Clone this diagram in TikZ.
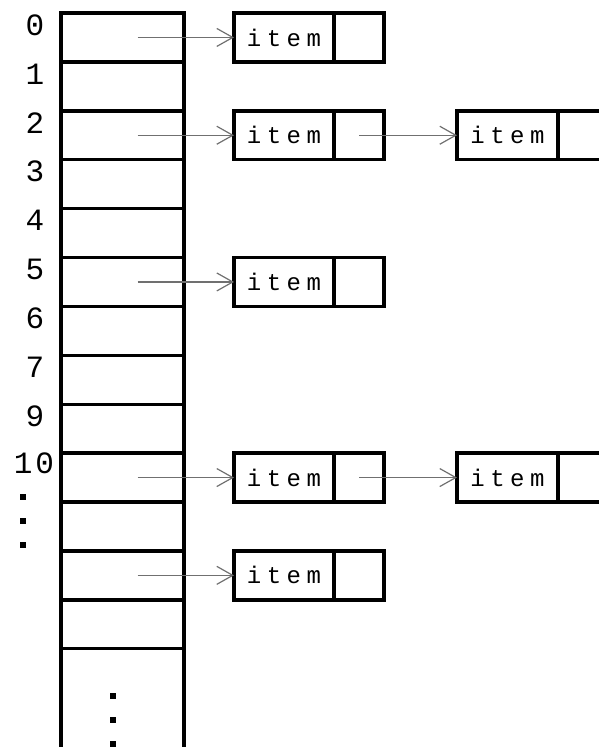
\documentclass[tikz,border=0pt]{standalone}
\usepackage{fontspec}
\usetikzlibrary{arrows.meta}
\newfontfamily\monof{Liberation Mono}
\newcommand\itemtext{i\kern5.5pt t\kern5.5pt e\kern5.5pt m}
\definecolor{linkgray}{HTML}{707070}
\begin{document}
\begin{tikzpicture}[x=1pt,y=-1pt,
  cell/.style={draw,line width=3.4pt,minimum width=123pt,minimum height=48.9pt,inner sep=0pt,outer sep=0pt,anchor=north west},
  itembox/.style={draw,line width=3.4pt,minimum width=100pt,minimum height=48.9pt,inner sep=0pt,outer sep=0pt,anchor=north west,font=\monof\fontsize{24}{24}\selectfont},
  ptrbox/.style={draw,line width=3.4pt,minimum width=50pt,minimum height=48.9pt,inner sep=0pt,outer sep=0pt,anchor=north west},
  idx/.style={font=\monof\fontsize{31}{31}\selectfont,inner sep=0pt},
  link/.style={draw=linkgray,line width=1.2pt,-{Straight Barb[length=16pt,width=18pt,line width=1.2pt]}},
  dotm/.style={fill=black,minimum size=5.5pt,inner sep=0pt,outer sep=0pt}]
\useasboundingbox (0,0) rectangle (599,747);
\clip (0,0) rectangle (599,747);
% table cells
\foreach \k in {0,...,12}
  \node[cell] (c\k) at (61,{13+48.9*\k}) {};
\draw[line width=3.4pt] (c12.south west) -- ++(0,120);
\draw[line width=3.4pt] (c12.south east) -- ++(0,120);
% index labels
\foreach \k/\t in {0/0,1/1,2/2,3/3,4/4,5/5,6/6,7/7,8/9}
  \node[idx] (l\k) at (35,{25+48.9*\k}) {\t};
\node[idx] (l9) at (34,{463}) {1\kern3pt 0};
% left dots
\node[dotm] (ld1) at (23,497) {};
\node[dotm] (ld2) at (23,521) {};
\node[dotm] (ld3) at (23,545) {};
% bottom dots
\node[dotm] (bd1) at (113,696) {};
\node[dotm] (bd2) at (113,720) {};
\node[dotm] (bd3) at (113,744) {};
% first-level items
\foreach \k in {0,2,5,9,11} {
  \node[itembox] (i\k) at (234,{13+48.9*\k}) {\itemtext};
  \node[ptrbox] (p\k) at (334,{13+48.9*\k}) {};
  \draw[link] ([xshift=15pt]c\k.center) -- (i\k.west);
}
% second-level items
\foreach \k in {2,9} {
  \node[itembox,minimum width=101pt] (j\k) at (457,{13+48.9*\k}) {\itemtext};
  \node[ptrbox] (q\k) at (558,{13+48.9*\k}) {};
  \draw[link] (p\k.center) -- (j\k.west);
}
\end{tikzpicture}
\end{document}
